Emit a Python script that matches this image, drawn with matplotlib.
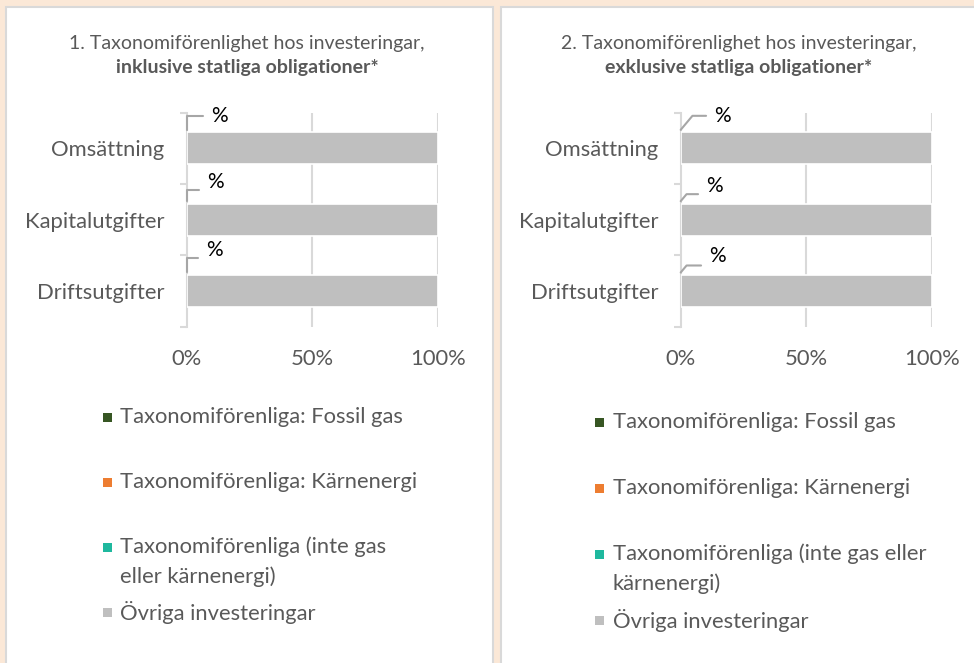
import matplotlib
matplotlib.use("Agg")
from matplotlib import pyplot as plt
from matplotlib.patches import Rectangle

plt.rcParams["font.family"] = ["Lato", "DejaVu Sans"]

# data
categories = ["Omsättning", "Kapitalutgifter", "Driftsutgifter"]
series_names = [
    "Taxonomiförenliga: Fossil gas",
    "Taxonomiförenliga: Kärnenergi",
    "Taxonomiförenliga (inte gas eller kärnenergi)",
    "Övriga investeringar",
]
series_colors = ["#375623", "#ED7D31", "#1FB89E", "#BFBFBF"]
incl_values = [
    [0, 0, 0],       # fossil gas
    [0, 0, 0],       # kärnenergi
    [0, 0, 0],       # inte gas eller kärnenergi
    [100, 100, 100], # övriga
]
excl_values = [
    [0, 0, 0],
    [0, 0, 0],
    [0, 0, 0],
    [100, 100, 100],
]
data_labels = ["%", "%", "%"]
x_ticks = [0, 50, 100]
x_tick_labels = ["0%", "50%", "100%"]

TEXT = "#595959"
GRID = "#D9D9D9"
W, H = 974, 663
FS = 15.8


def fx(px):
    return px / W


def fy(py):
    return 1 - py / H


fig = plt.figure(figsize=(9.74, 6.63), dpi=100, facecolor="#FBE8D7")

# white panels
for x0, x1 in [(6, 493), (501, 980)]:
    fig.patches.append(Rectangle((fx(x0), fy(680)), fx(x1 - x0), (680 - 7) / H,
                                 transform=fig.transFigure, facecolor="white",
                                 edgecolor=GRID, linewidth=1.5, zorder=-5))


def make_panel(left, values, title_num, title_bold, title_cx, label_offsets, label_rel,
               angle_b, legend_pos):
    ax = fig.add_axes([fx(left), fy(326.7), fx(251), 214 / H])
    ax.set_facecolor("none")
    y = list(range(len(categories)))
    start = [0] * len(categories)
    for vals, color in zip(values, series_colors):
        ax.barh(y, vals, left=start, height=0.45, color=color, edgecolor="white",
                linewidth=1.2, zorder=3)
        start = [s + v for s, v in zip(start, vals)]

    ax.set_xlim(0, 100)
    ax.set_ylim(2.5, -0.5)
    ax.set_xticks(x_ticks)
    ax.set_xticklabels(x_tick_labels)
    ax.set_yticks(y)
    ax.set_yticklabels(categories)
    ax.set_yticks([-0.5, 0.5, 1.5, 2.5], minor=True)
    ax.tick_params(axis="both", which="major", length=0, labelsize=FS, labelcolor=TEXT)
    ax.tick_params(axis="x", pad=16)
    ax.tick_params(axis="y", pad=16)
    ax.tick_params(axis="y", which="minor", length=5, width=1.5, color=GRID, direction="out")
    for side in ["top", "right", "bottom"]:
        ax.spines[side].set_visible(False)
    ax.spines["left"].set_color(GRID)
    ax.spines["left"].set_linewidth(1.5)
    for gx in x_ticks[1:]:
        ax.axvline(gx, color=GRID, linewidth=1.5, zorder=1)

    # data labels with leader lines
    for i, (lab, off, rel) in enumerate(zip(data_labels, label_offsets, label_rel)):
        ax.annotate(lab, xy=(0, i - 0.26), xytext=off, textcoords="offset pixels",
                    ha="center", va="center", fontsize=15, color="black",
                    arrowprops=dict(arrowstyle="-", color="#A6A6A6", linewidth=1.5,
                                    shrinkA=4, shrinkB=0, relpos=(0, rel),
                                    connectionstyle="angle,angleA=0,angleB=%d,rad=0" % angle_b))

    fig.text(fx(title_cx), fy(43), title_num, ha="center", va="center", fontsize=14, color=TEXT)
    fig.text(fx(title_cx), fy(67), title_bold, ha="center", va="center", fontsize=14,
             color=TEXT, fontweight="bold")

    # legend
    sq_x, txt_x, rows, labels = legend_pos
    for (ry, color), lab in zip(zip(rows, series_colors), labels):
        fig.patches.append(Rectangle((fx(sq_x), fy(ry + 4.5)), fx(9), 9 / H,
                                     transform=fig.transFigure, facecolor=color,
                                     edgecolor="none"))
        cy = ry + 15 * lab.count("\n")
        fig.text(fx(txt_x), fy(cy), lab, ha="left", va="center",
                 fontsize=FS, color=TEXT, linespacing=1.55)
    return ax


left_labels = [series_names[0], series_names[1],
               "Taxonomiförenliga (inte gas\neller kärnenergi)", series_names[3]]
right_labels = [series_names[0], series_names[1],
                "Taxonomiförenliga (inte gas eller\nkärnenergi)", series_names[3]]

make_panel(186.7, incl_values, "1. Taxonomiförenlighet hos investeringar,",
           "inklusive statliga obligationer*", 247,
           [(33, 14), (29, 19), (28, 22)], [0.5, 0.1, 0.1], 90,
           (103, 120, [417, 482, 547, 612], left_labels))
make_panel(680.7, excl_values, "2. Taxonomiförenlighet hos investeringar,",
           "exklusive statliga obligationer*", 739,
           [(42, 14), (34, 15), (37, 16)], [0.5, 0.1, 0.05], 50,
           (595, 613, [422, 488, 554, 620], right_labels))

fig.savefig("out.png", dpi=100, facecolor=fig.get_facecolor())
